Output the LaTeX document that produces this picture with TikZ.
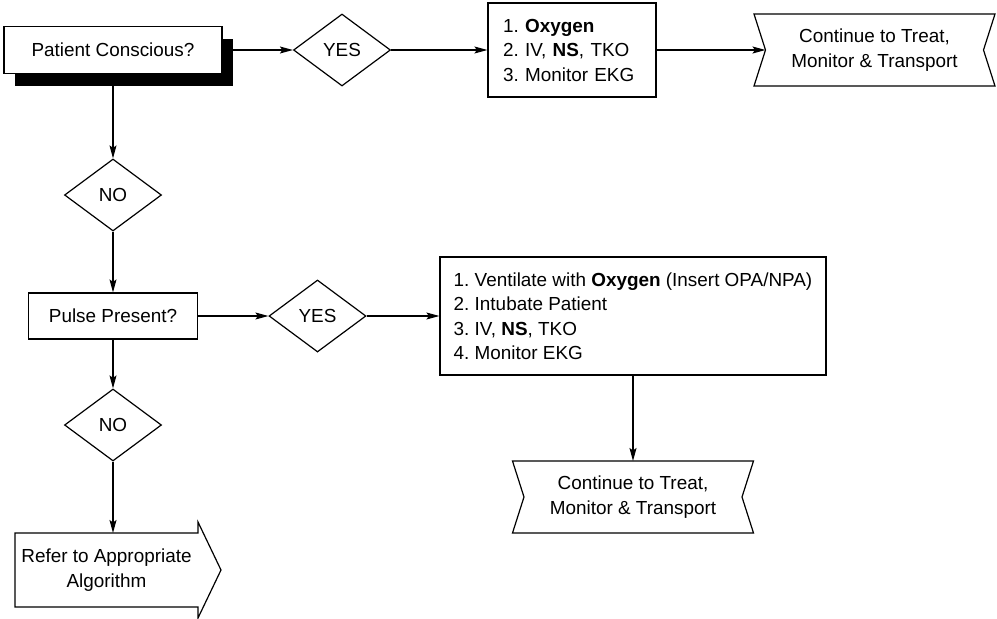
\documentclass[tikz,border=0pt]{standalone}
\usepackage{fontspec}
\setmainfont{Liberation Sans}
\frenchspacing
\usetikzlibrary{arrows.meta}
\usetikzlibrary{shapes.geometric}
\usetikzlibrary{shadows}

\tikzset{
  flow/.style={line width=1.2pt, -{Stealth[length=13pt,width=7pt,inset=2.5pt]}},
  question/.style={draw, line width=1.2pt, rectangle, fill=white, minimum height=47pt, align=center},
  decision/.style={draw, line width=1.2pt, diamond, minimum width=97pt, minimum height=72pt, inner sep=0pt},
  orders/.style={draw, line width=1.2pt, rectangle, align=left, inner xsep=15pt},
  ribbon/.style={minimum width=218pt, minimum height=72pt, align=center, inner sep=0pt, outer sep=0pt},
}

\begin{document}
\begin{tikzpicture}[x=1pt, y=-1pt, every node/.style={font=\fontsize{18.9}{24.5}\selectfont}]
\useasboundingbox (0,0) rectangle (997,619);

% top row
\node[question, minimum width=218pt, drop shadow={shadow xshift=11pt, shadow yshift=-12pt, fill=black, opacity=1}] (pc) at (113,50) {Patient Conscious?};
\node[decision] (yes1) at (342,50) {YES};
\node[orders, text width=138pt, minimum height=94pt] (tx1) at (572,50) {1. \textbf{Oxygen}\\ 2. IV, \textbf{NS}, TKO\\ 3. Monitor EKG};
\node[ribbon] (cont1) at (874.5,50) {Continue to Treat,\\ Monitor \& Transport};

% second row and left column
\node[decision] (no1) at (113,195) {NO};
\node[question, minimum width=169pt, minimum height=46pt] (pulse) at (113,316) {Pulse Present?};
\node[decision] (yes2) at (317.5,316) {YES};
\node[orders, inner xsep=12pt, minimum width=386pt, minimum height=118pt] (tx2) at (633,316) {1. Ventilate with \textbf{Oxygen} (Insert OPA/NPA)\\ 2. Intubate Patient\\ 3. IV, \textbf{NS}, TKO\\ 4. Monitor EKG};
\node[ribbon] (cont2) at (633,497) {Continue to Treat,\\ Monitor \& Transport};
\node[decision] (no2) at (113,425) {NO};
\node[minimum width=183pt, minimum height=74pt, align=center, inner sep=0pt, outer sep=0pt] (refer) at (106.5,570) {Refer to Appropriate\\ Algorithm};

% notched end boxes
\foreach \r in {cont1, cont2}
  \draw[line width=1.2pt] ([xshift=-11.5pt]\r.north west) -- ([xshift=11.5pt]\r.north east) -- (\r.east)
    -- ([xshift=11.5pt]\r.south east) -- ([xshift=-11.5pt]\r.south west) -- (\r.west) -- cycle;
% big arrow
\draw[line width=1.2pt] (refer.north west) -- (refer.north east) -- ([yshift=11pt]refer.north east)
  -- ([xshift=23pt]refer.east) -- ([yshift=-11pt]refer.south east) -- (refer.south east) -- (refer.south west) -- cycle;

\draw[flow] (pc) -- (yes1);
\draw[flow] (yes1) -- (tx1);
\draw[flow] (tx1) -- (cont1);
\draw[flow] (pc) -- (no1);
\draw[flow] (no1) -- (pulse);
\draw[flow] (pulse) -- (yes2);
\draw[flow] (yes2) -- (tx2);
\draw[flow] (tx2) -- (cont2);
\draw[flow] (pulse) -- (no2);
\draw[flow] (no2) -- (no2 |- refer.north);

\end{tikzpicture}
\end{document}
